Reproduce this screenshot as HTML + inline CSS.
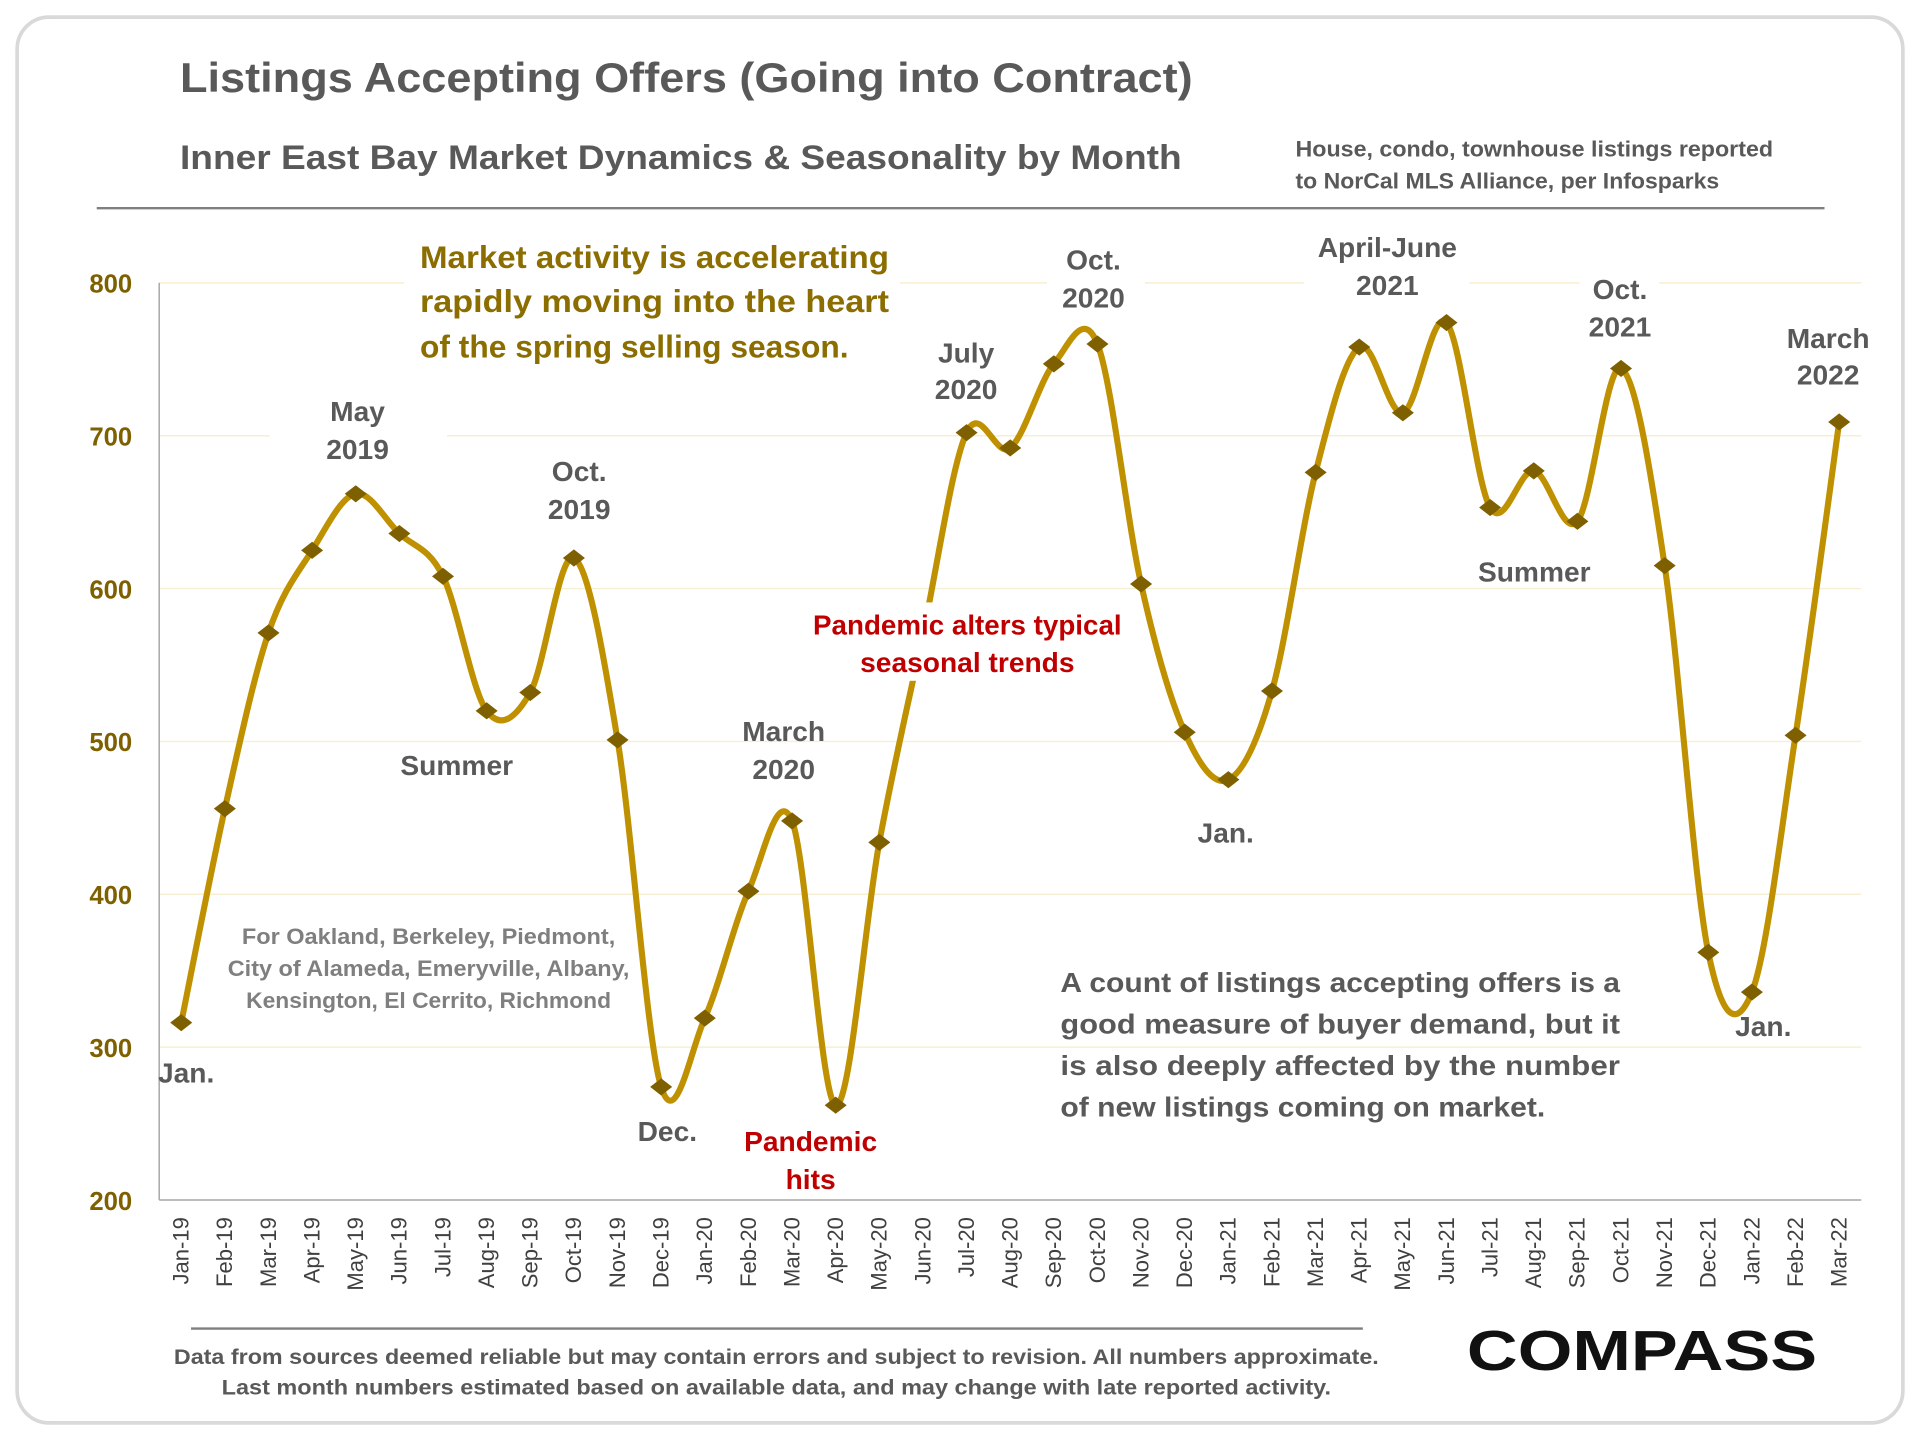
<!DOCTYPE html>
<html><head><meta charset="utf-8"><style>
html,body{margin:0;padding:0;background:#fff;}
svg{display:block;font-family:"Liberation Sans",sans-serif;}
</style></head><body>
<svg id="chart" width="1920" height="1440" viewBox="0 0 1568 1176" xmlns="http://www.w3.org/2000/svg">
<rect x="14" y="14" width="1540" height="1148" rx="26" fill="#fff" stroke="#d9d9d9" stroke-width="3"/>
<text x="147" y="75" font-size="34" font-weight="bold" fill="#595959" textLength="827" lengthAdjust="spacingAndGlyphs">Listings Accepting Offers (Going into Contract)</text>
<text x="147" y="138" font-size="28" font-weight="bold" fill="#595959" textLength="818" lengthAdjust="spacingAndGlyphs">Inner East Bay Market Dynamics &amp; Seasonality by Month</text>
<text font-size="18" font-weight="bold" fill="#595959"><tspan x="1058" y="128" textLength="390" lengthAdjust="spacingAndGlyphs">House, condo, townhouse listings reported</tspan><tspan x="1058" y="154" textLength="346" lengthAdjust="spacingAndGlyphs">to NorCal MLS Alliance, per Infosparks</tspan></text>
<line x1="79" y1="170" x2="1490" y2="170" stroke="#7f7f7f" stroke-width="2"/>
<g id="grid"></g>
<g fill="#fff">
<rect x="330" y="195" width="405" height="110"/>
<rect x="220" y="320" width="145" height="60"/>
<rect x="855" y="198" width="80" height="60"/>
<rect x="1065" y="190" width="135" height="58"/>
<rect x="1290" y="222" width="65" height="58"/>
</g>
<g id="axes"></g>
<path id="series" fill="none" stroke="#BF9000" stroke-width="5"/>
<g id="marks"></g>
<rect x="660" y="492" width="262" height="64" fill="#fff"/>
<g id="xlabels"></g>
<g font-weight="bold" text-anchor="middle" fill="#595959" font-size="23">
<text x="292" y="344">May<tspan x="292" y="375">2019</tspan></text>
<text x="473" y="393">Oct.<tspan x="473" y="424">2019</tspan></text>
<text x="373" y="633">Summer</text>
<text x="152" y="884">Jan.</text>
<text x="545" y="932">Dec.</text>
<text x="640" y="605">March<tspan x="640" y="636">2020</tspan></text>
<text x="789" y="296">July<tspan x="789" y="326">2020</tspan></text>
<text x="893" y="220">Oct.<tspan x="893" y="251">2020</tspan></text>
<text x="1001" y="688">Jan.</text>
<text x="1133" y="210">April-June<tspan x="1133" y="241">2021</tspan></text>
<text x="1323" y="244">Oct.<tspan x="1323" y="275">2021</tspan></text>
<text x="1253" y="475">Summer</text>
<text x="1493" y="284">March<tspan x="1493" y="314">2022</tspan></text>
<text x="1440" y="846">Jan.</text>
<g fill="#C00000">
<text x="662" y="940">Pandemic<tspan x="662" y="971">hits</tspan></text>
<text x="790" y="518" textLength="252" lengthAdjust="spacingAndGlyphs">Pandemic alters typical</text>
<text x="790" y="549">seasonal trends</text>
</g>
</g>
<g font-weight="bold" fill="#8B6D00" font-size="26">
<text x="343" y="219" textLength="383" lengthAdjust="spacingAndGlyphs">Market activity is accelerating</text>
<text x="343" y="255" textLength="383" lengthAdjust="spacingAndGlyphs">rapidly moving into the heart</text>
<text x="343" y="292" textLength="350" lengthAdjust="spacingAndGlyphs">of the spring selling season.</text>
</g>
<g font-weight="bold" fill="#7f7f7f" font-size="18" text-anchor="middle">
<text x="350" y="771" textLength="305" lengthAdjust="spacingAndGlyphs">For Oakland, Berkeley, Piedmont,</text>
<text x="350" y="797" textLength="328" lengthAdjust="spacingAndGlyphs">City of Alameda, Emeryville, Albany,</text>
<text x="350" y="823" textLength="298" lengthAdjust="spacingAndGlyphs">Kensington, El Cerrito, Richmond</text>
</g>
<g font-weight="bold" fill="#595959" font-size="23">
<text x="866" y="810" textLength="457" lengthAdjust="spacingAndGlyphs">A count of listings accepting offers is a</text>
<text x="866" y="844" textLength="457" lengthAdjust="spacingAndGlyphs">good measure of buyer demand, but it</text>
<text x="866" y="878" textLength="457" lengthAdjust="spacingAndGlyphs">is also deeply affected by the number</text>
<text x="866" y="912" textLength="396" lengthAdjust="spacingAndGlyphs">of new listings coming on market.</text>
</g>
<line x1="156" y1="1085" x2="1113" y2="1085" stroke="#7f7f7f" stroke-width="2"/>
<g font-weight="bold" fill="#595959" font-size="17" text-anchor="middle">
<text x="634" y="1114" textLength="984" lengthAdjust="spacingAndGlyphs">Data from sources deemed reliable but may contain errors and subject to revision. All numbers approximate.</text>
<text x="634" y="1139" textLength="906" lengthAdjust="spacingAndGlyphs">Last month numbers estimated based on available data, and may change with late reported activity.</text>
</g>
<text x="1198" y="1119" font-size="46" font-weight="bold" fill="#111" textLength="286" lengthAdjust="spacingAndGlyphs">COMPASS</text>
</svg>
<script>
const months = ["Jan-19","Feb-19","Mar-19","Apr-19","May-19","Jun-19","Jul-19","Aug-19","Sep-19","Oct-19","Nov-19","Dec-19","Jan-20","Feb-20","Mar-20","Apr-20","May-20","Jun-20","Jul-20","Aug-20","Sep-20","Oct-20","Nov-20","Dec-20","Jan-21","Feb-21","Mar-21","Apr-21","May-21","Jun-21","Jul-21","Aug-21","Sep-21","Oct-21","Nov-21","Dec-21","Jan-22","Feb-22","Mar-22"];
const listings = [316,456,571,625,662,636,608,520,532,620,501,274,319,402,448,262,434,570,702,692,747,760,603,506,475,533,676,758,715,774,653,677,644,744,615,362,336,504,709];
const yTicks = [200,300,400,500,600,700,800];
const NS="http://www.w3.org/2000/svg";
const X0=148, X1=1502, Y0=980, Y1=231, YMIN=200, YMAX=800;
function xs(i){return X0+(X1-X0)*i/(months.length-1);}
function ys(v){return Y0-(v-YMIN)/(YMAX-YMIN)*(Y0-Y1);}
function mk(tag,attrs,parent){const e=document.createElementNS(NS,tag);for(const k in attrs)e.setAttribute(k,attrs[k]);parent.appendChild(e);return e;}
const grid=document.getElementById('grid'), axes=document.getElementById('axes');
yTicks.forEach(t=>{
  if(t>YMIN){const g=mk('line',{x1:130,x2:1520,y1:ys(t),y2:ys(t),stroke:'#f7efd2','stroke-width':1.2},grid);
  
  }
  const l=mk('text',{x:108,y:ys(t)+8,'text-anchor':'end','font-size':21,'font-weight':'bold',fill:'#7F6000'},axes);
  l.textContent=t;
  
  
});
const ya=mk('line',{x1:130,x2:130,y1:Y1,y2:Y0,stroke:'#a6a6a6','stroke-width':1.2},axes);


const xa=mk('line',{x1:130,x2:1520,y1:Y0,y2:Y0,stroke:'#a6a6a6','stroke-width':1.2},axes);


const pts=listings.map((v,i)=>[xs(i),ys(v)]);
let d='M'+pts[0][0]+','+pts[0][1];
for(let i=0;i<pts.length-1;i++){
  const p0=pts[Math.max(0,i-1)],p1=pts[i],p2=pts[i+1],p3=pts[Math.min(pts.length-1,i+2)];
  const t=1/6;
  d+=' C'+(p1[0]+(p2[0]-p0[0])*t)+','+(p1[1]+(p2[1]-p0[1])*t)+' '+(p2[0]-(p3[0]-p1[0])*t)+','+(p2[1]-(p3[1]-p1[1])*t)+' '+p2[0]+','+p2[1];
}
document.getElementById('series').setAttribute('d',d);
const marks=document.getElementById('marks'), xl=document.getElementById('xlabels');
pts.forEach((p,i)=>{
  const m=mk('polygon',{points:(p[0]-9)+','+p[1]+' '+p[0]+','+(p[1]-7)+' '+(p[0]+9)+','+p[1]+' '+p[0]+','+(p[1]+7),fill:'#7F6000'},marks);
  
  
  const t=mk('text',{transform:'translate('+(p[0]+6)+',994) rotate(-90)','text-anchor':'end','font-size':18,fill:'#404040'},xl);
  t.textContent=months[i];
  
  
});
</script>
</body></html>
